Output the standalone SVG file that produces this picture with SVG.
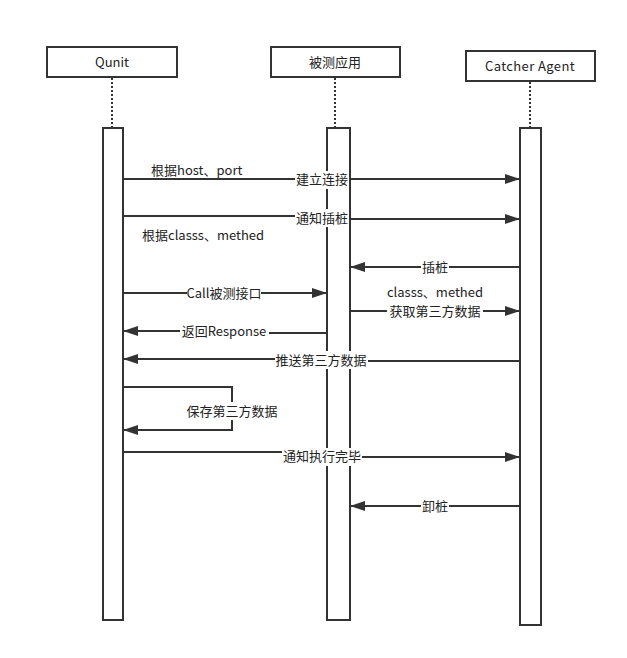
<svg xmlns="http://www.w3.org/2000/svg" width="627" height="658" viewBox="0 0 627 658">
<style>
.box{fill:#fff;stroke:#333;stroke-width:2}
.life{stroke:#333;stroke-width:2;stroke-dasharray:2,2;fill:none}
.ln{stroke:#333;stroke-width:2;fill:none}
.lb{fill:#fff}
text{font-family:"Noto Sans CJK SC","Microsoft YaHei","Open Sans",sans-serif;font-size:13px;fill:#222}
.t{text-anchor:middle}
</style>
<defs>
<marker id="ah" viewBox="0 0 15 10" refX="15" refY="5" markerWidth="15" markerHeight="10" markerUnits="userSpaceOnUse" orient="auto">
<path d="M0,0 L15,5 L0,10 Z" fill="#333"/>
</marker>
</defs>
<rect width="627" height="658" fill="#fff"/>
<g id="qunit">
<rect class="box" x="47" y="47" width="130" height="30"/>
<text class="t" x="112" y="67">Qunit</text>
<line class="life" x1="112" y1="78" x2="112" y2="128"/>
<rect class="box" x="103" y="128" width="20" height="492"/>
</g>
<g id="app">
<rect class="box" x="271" y="47" width="129" height="30"/>
<text class="t" x="335" y="67">被测应用</text>
<line class="life" x1="335" y1="78" x2="335" y2="128"/>
<rect class="box" x="327" y="128" width="23" height="492"/>
</g>
<g id="agent">
<rect class="box" x="466" y="51" width="129" height="30"/>
<text class="t" x="530" y="71" letter-spacing="0.4">Catcher Agent</text>
<line class="life" x1="530" y1="82" x2="530" y2="128"/>
<rect class="box" x="520" y="128" width="21" height="497"/>
</g>
<g id="connectors">
<path class="ln" d="M123,179 H520" marker-end="url(#ah)"/>
<path class="ln" d="M123,216 H322 V219 H520" marker-end="url(#ah)"/>
<path class="ln" d="M520,267 H350" marker-end="url(#ah)"/>
<path class="ln" d="M123,293 H327" marker-end="url(#ah)"/>
<path class="ln" d="M350,311 H520" marker-end="url(#ah)"/>
<path class="ln" d="M327,333 H224 V331 H123" marker-end="url(#ah)"/>
<path class="ln" d="M520,361 H321 V359 H123" marker-end="url(#ah)"/>
<path class="ln" d="M123,387 H232 V430 H123" marker-end="url(#ah)"/>
<path class="ln" d="M123,452 H322 V457 H520" marker-end="url(#ah)"/>
<path class="ln" d="M520,506 H350" marker-end="url(#ah)"/>
</g>
<g id="labels">
<text x="151" y="175">根据host、port</text>
<rect class="lb" x="295" y="171" width="54" height="18"/>
<text class="t" x="322" y="184">建立连接</text>
<rect class="lb" x="295" y="209" width="54" height="18"/>
<text class="t" x="322" y="223">通知插桩</text>
<text x="142" y="240">根据classs、methed</text>
<rect class="lb" x="421" y="259" width="28" height="17"/>
<text class="t" x="435" y="272">插桩</text>
<rect class="lb" x="187" y="285" width="74" height="17"/>
<text class="t" x="224" y="298">Call被测接口</text>
<rect class="lb" x="387" y="286" width="96" height="33"/>
<text class="t" x="435" y="297">classs、methed</text>
<text class="t" x="435" y="316">获取第三方数据</text>
<rect class="lb" x="180" y="323" width="89" height="17"/>
<text class="t" x="224" y="336">返回Response</text>
<rect class="lb" x="275" y="351" width="93" height="18"/>
<text class="t" x="321" y="365">推送第三方数据</text>
<rect class="lb" x="186" y="402" width="92" height="18"/>
<text class="t" x="232" y="416">保存第三方数据</text>
<rect class="lb" x="282" y="448" width="80" height="18"/>
<text class="t" x="322" y="461">通知执行完毕</text>
<rect class="lb" x="421" y="498" width="28" height="17"/>
<text class="t" x="435" y="511">卸桩</text>
</g>
</svg>
